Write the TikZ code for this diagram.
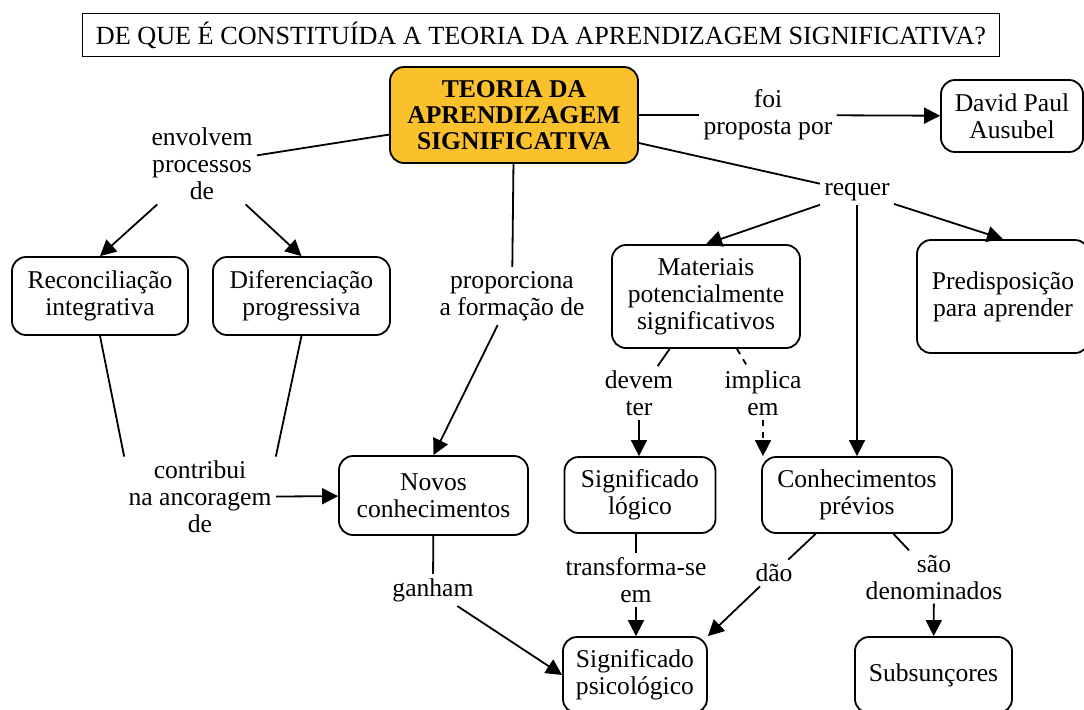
\documentclass[tikz,border=0pt]{standalone}
\usepackage{fontspec}
\setmainfont{Liberation Serif}
\usetikzlibrary{arrows.meta}
\definecolor{teoriafill}{RGB}{250,193,45}

\tikzset{
  conceito/.style={draw, line width=0.9pt, rounded corners=7pt, align=center,
    font=\fontsize{12.8}{13.5}\selectfont, inner sep=2pt},
  ligacao/.style={align=center, font=\fontsize{12.8}{13.5}\selectfont, inner sep=2pt},
  seta/.style={-{Triangle[length=8pt,width=8pt]}, line width=0.9pt},
  linha/.style={line width=0.9pt}
}

\begin{document}
\begin{tikzpicture}[x=0.5pt, y=-0.5pt]
\useasboundingbox (0,0) rectangle (1084,709);
% title
\node[draw, line width=0.9pt, minimum width=458.5pt, minimum height=21.5pt, inner sep=0pt,
  font=\fontsize{13.1}{14}\selectfont] (titulo) at (541,35)
  {DE QUE É CONSTITUÍDA A TEORIA DA APRENDIZAGEM SIGNIFICATIVA?};
% concepts
\node[conceito, fill=teoriafill, minimum width=124pt, minimum height=48pt,
  font=\bfseries\fontsize{12.8}{13}\selectfont] (teoria) at (514,115)
  {TEORIA DA\\APRENDIZAGEM\\SIGNIFICATIVA};
\node[conceito, minimum width=71pt, minimum height=36pt] (ausubel) at (1012,116) {David Paul\\Ausubel};
\node[conceito, minimum width=88pt, minimum height=39pt] (reconc) at (100,296) {Reconciliação\\integrativa};
\node[conceito, minimum width=88.5pt, minimum height=39pt] (difer) at (301.5,296) {Diferenciação\\progressiva};
\node[conceito, minimum width=94pt, minimum height=51.5pt] (materiais) at (706,296.5) {Materiais\\potencialmente\\significativos};
\node[conceito, minimum width=86pt, minimum height=56.5pt] (predisp) at (1003,296.5) {Predisposição\\para aprender};
\node[conceito, minimum width=94.5pt, minimum height=39.5pt] (novos) at (433.5,495.5) {Novos\\conhecimentos};
\node[conceito, minimum width=75.5pt, minimum height=38pt] (siglogico) at (640,495) {Significado\\lógico};
\node[conceito, minimum width=95pt, minimum height=38pt] (previos) at (857,495) {Conhecimentos\\prévios};
\node[conceito, minimum width=72pt, minimum height=38pt] (sigpsico) at (635,675) {Significado\\psicológico};
\node[conceito, minimum width=78.5pt, minimum height=38pt] (subsuncores) at (933.5,675) {Subsunçores};
% linking phrases
\node[ligacao] (envolvem) at (202,164) {envolvem\\processos\\de};
\node[ligacao] (foi) at (768,115) {foi\\proposta por};
\node[ligacao] (requer) at (857,192) {requer};
\node[ligacao] (proporciona) at (512,296) {proporciona\\a formação de};
\node[ligacao] (devem) at (639,393) {devem\\ter};
\node[ligacao] (implica) at (763,393) {implica\\em};
\node[ligacao] (contribui) at (200,497) {contribui\\na ancoragem\\de};
\node[ligacao] (ganham) at (433,590) {ganham};
\node[ligacao] (transforma) at (636,580) {transforma-se\\em};
\node[ligacao] (dao) at (774,573) {dão};
\node[ligacao] (denominados) at (934,577) {são\\denominados};
% connections
\draw[linha] (teoria) -- (envolvem);
\draw[seta] (envolvem) -- (reconc.north);
\draw[seta] (envolvem) -- (difer.north);
\draw[linha] (teoria) -- (foi);
\draw[seta] (foi) -- (ausubel);
\draw[linha] (teoria) -- (requer);
\draw[seta] (requer) -- (materiais.north);
\draw[seta] (requer) -- (previos);
\draw[seta] (requer) -- (predisp.north);
\draw[linha] (teoria) -- (proporciona);
\draw[seta] (proporciona) -- (novos.north);
\draw[linha] (reconc.south) -- (contribui.north west);
\draw[linha] (difer.south) -- (contribui.north east);
\draw[seta] (contribui) -- (novos);
\draw[linha] (novos) -- (ganham);
\draw[seta] (ganham) -- (sigpsico.west);
\draw[linha] (materiais) -- (devem);
\draw[seta] (devem) -- (devem |- siglogico.north);
\draw[linha, dashed] (materiais) -- (implica);
\draw[seta, dashed] (implica) -- (implica |- previos.north);
\draw[linha] (siglogico.south -| transforma) -- (transforma);
\draw[seta] (transforma) -- (transforma |- sigpsico.north);
\draw[linha] (previos) -- (dao);
\draw[seta] (dao) -- (sigpsico.north east);
\draw[linha] (previos) -- (denominados);
\draw[seta] (denominados) -- (subsuncores);
\end{tikzpicture}
\end{document}
